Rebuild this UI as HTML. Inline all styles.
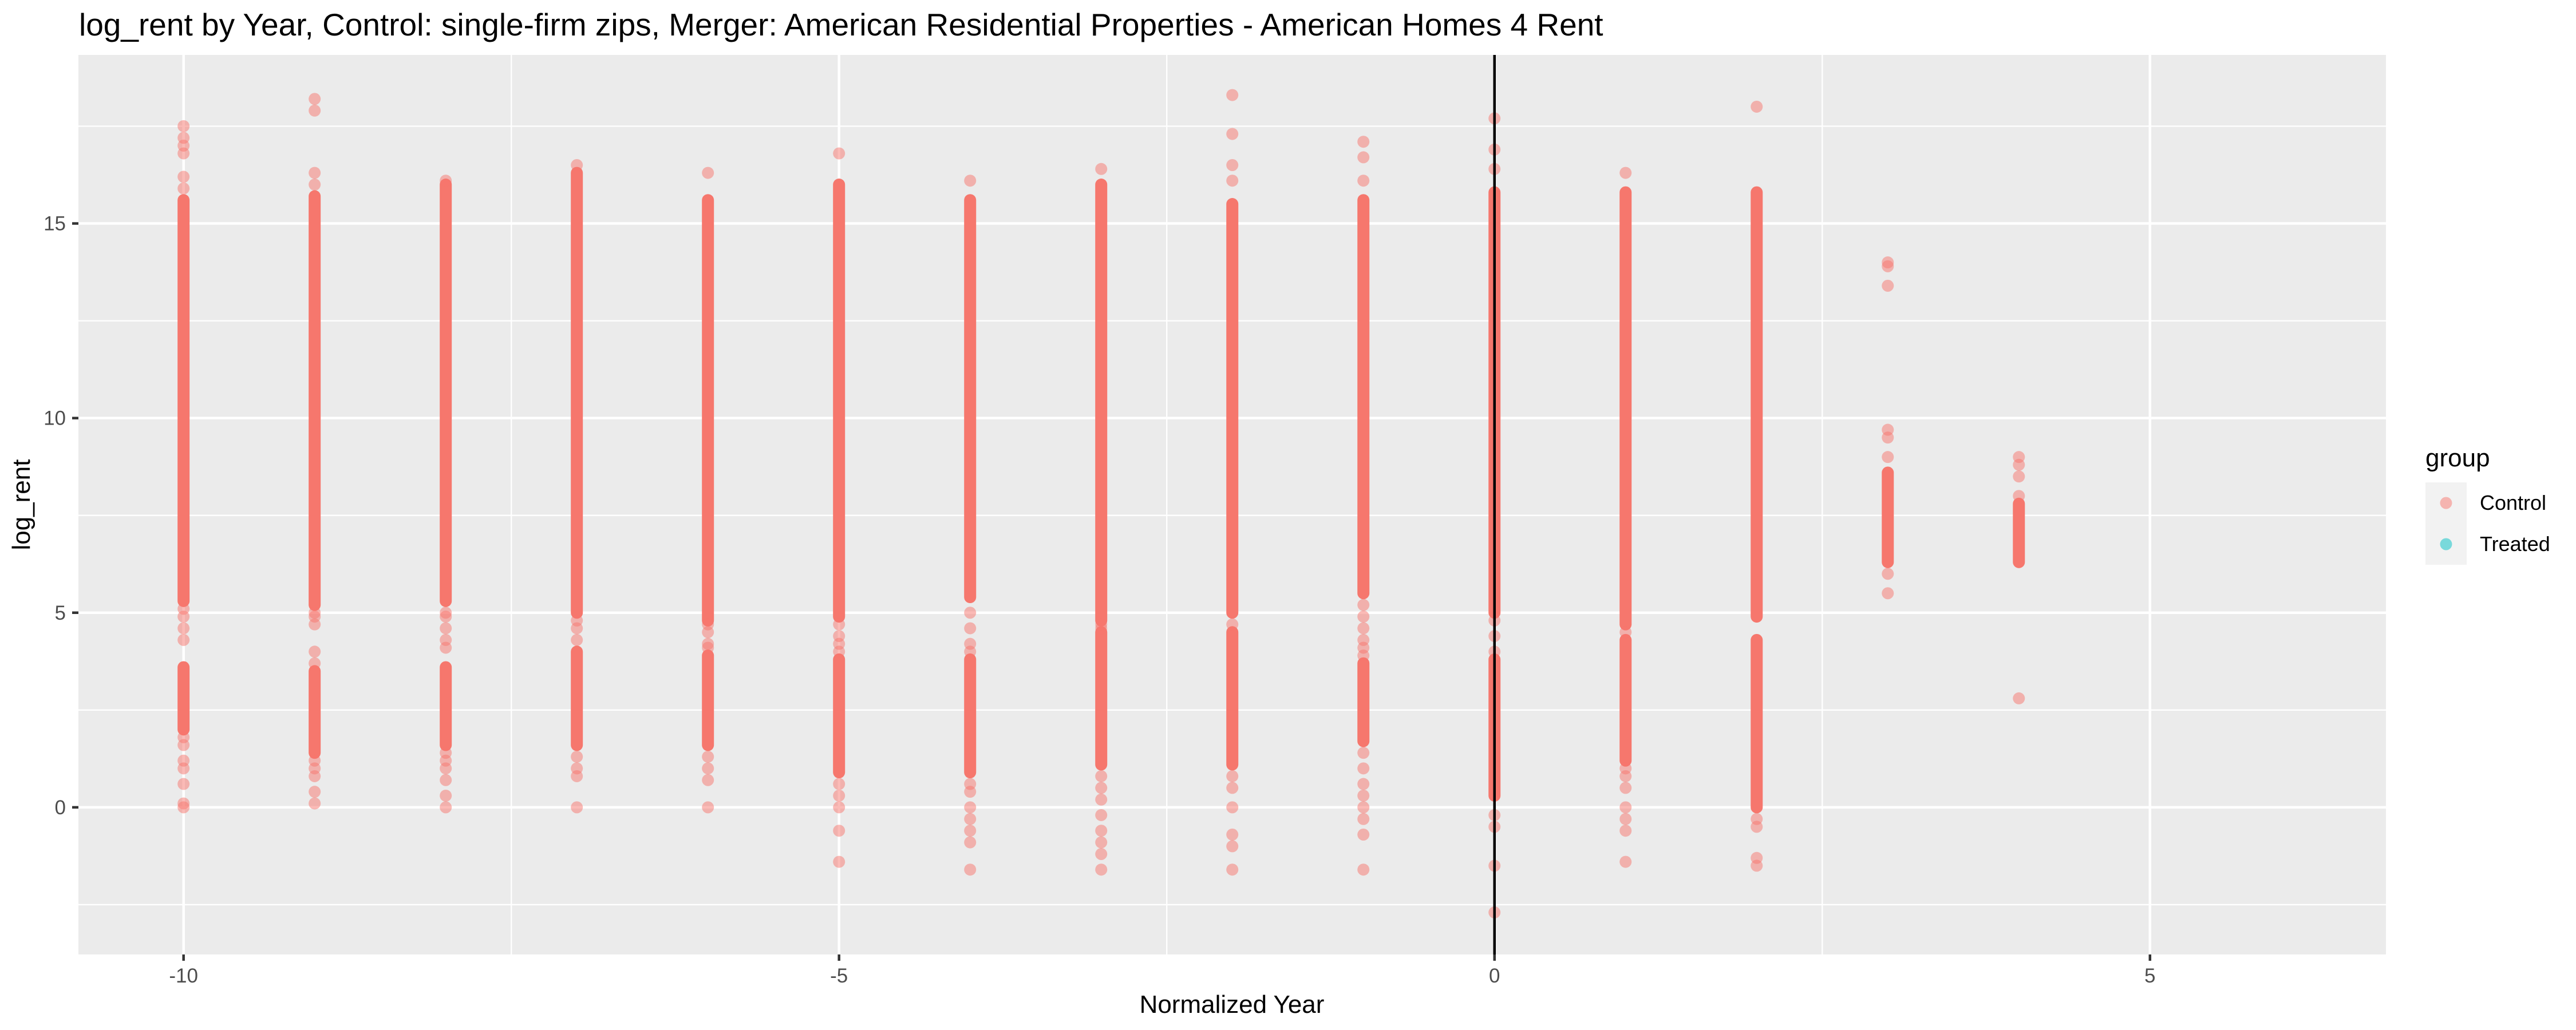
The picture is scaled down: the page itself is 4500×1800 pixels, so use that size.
<!DOCTYPE html>
<html><head><meta charset="utf-8"><style>
html,body{margin:0;padding:0;background:#fff;}
svg{display:block;font-family:"Liberation Sans",Arial,sans-serif;}
</style></head><body>
<svg id="chart" width="4500" height="1800" viewBox="0 0 4500 1800" xmlns="http://www.w3.org/2000/svg">
<text x="138" y="62" font-size="55" fill="#000">log_rent by Year, Control: single-firm zips, Merger: American Residential Properties - American Homes 4 Rent</text>
<rect x="137" y="96" width="4031" height="1572" fill="#EBEBEB"/>
<g id="grid"></g>
<g id="marks"></g>
<g id="axes"></g>
<text x="2152" y="1770" font-size="44" text-anchor="middle" fill="#000">Normalized Year</text>
<text transform="translate(52,882) rotate(-90)" font-size="44" text-anchor="middle" fill="#000">log_rent</text>
<g>
<text x="4237" y="815" font-size="44" fill="#000">group</text>
<rect x="4237" y="843" width="72" height="144" fill="#F2F2F2"/>
<circle cx="4273" cy="879" r="10.5" fill="#F8766D" fill-opacity="0.5"/>
<circle cx="4273" cy="951" r="10.5" fill="#00BFC4" fill-opacity="0.5"/>
<text x="4332" y="891" font-size="36" fill="#000">Control</text>
<text x="4332" y="963" font-size="36" fill="#000">Treated</text>
</g>
</svg>
<script>
const years = [-10,-9,-8,-7,-6,-5,-4,-3,-2,-1,0,1,2,3,4];
const upperBandLo = [5.3,5.2,5.3,5.0,4.8,4.9,5.4,4.8,5.0,5.5,5.0,4.7,4.9,6.3,6.3];
const upperBandHi = [15.6,15.7,16.0,16.3,15.6,16.0,15.6,16.0,15.5,15.6,15.8,15.8,15.8,8.6,7.8];
const lowerBandLo = [2.0,1.4,1.6,1.6,1.6,0.9,0.9,1.1,1.1,1.7,0.3,1.2,0.0,null,null];
const lowerBandHi = [3.6,3.5,3.6,4.0,3.9,3.8,3.8,4.5,4.5,3.7,3.8,4.3,4.3,null,null];
const outliers = [
 [17.5,17.2,17.0,16.8,16.2,15.9,4.3,4.6,4.9,5.1,1.2,1.0,0.6,0.1,0.0,1.6,1.8],
 [18.2,17.9,16.3,16.0,4.7,4.0,3.7,1.0,0.8,0.4,0.1,4.9,5.0,1.2],
 [16.1,4.3,4.6,5.0,4.1,1.0,0.7,0.3,0.0,1.2,1.4,4.9],
 [16.5,4.6,4.3,4.8,1.0,0.8,0.0,1.3],
 [16.3,4.2,4.5,4.7,4.1,1.0,0.7,0.0,1.3],
 [16.8,4.0,4.4,4.7,4.2,0.3,0.0,-0.6,-1.4,0.6],
 [16.1,4.6,5.0,4.2,4.0,0.0,-0.3,-0.6,-0.9,-1.6,0.4,0.6],
 [16.4,4.6,4.7,0.8,0.5,-0.2,-0.6,-0.9,-1.2,-1.6,0.2],
 [18.3,17.3,16.5,16.1,4.7,0.8,0.5,0.0,-0.7,-1.0,-1.6],
 [17.1,16.7,16.1,5.2,4.9,4.6,4.3,4.1,3.9,1.4,1.0,0.6,0.3,0.0,-0.3,-0.7,-1.6],
 [17.7,16.9,16.4,4.0,4.4,4.8,-0.2,-0.5,-1.5,-2.7],
 [16.3,4.5,1.0,0.8,0.5,0.0,-0.3,-0.6,-1.4],
 [18.0,-0.3,-0.5,-1.3,-1.5],
 [14.0,13.9,13.4,9.7,9.5,9.0,6.0,5.5],
 [9.0,8.8,8.5,8.0,2.8]
];
const xMajor = [-10,-5,0,5];
const xMinor = [-7.5,-2.5,2.5];
const yMajor = [0,5,10,15];
const yMinor = [-2.5,2.5,7.5,12.5,17.5];
const xTickLabels = ["-10","-5","0","5"];
const yTickLabels = ["0","5","10","15"];

const NS = "http://www.w3.org/2000/svg";
const P = {l:137,r:4168,t:96,b:1668};
const xDom = [-10.802, 6.8];
const yDom = [-3.78, 19.33];
function xs(v){return P.l + (v - xDom[0])/(xDom[1]-xDom[0])*(P.r-P.l);}
function ys(v){return P.b - (v - yDom[0])/(yDom[1]-yDom[0])*(P.b-P.t);}
function mk(tag, attrs, parent){const e=document.createElementNS(NS,tag);for(const k in attrs)e.setAttribute(k,attrs[k]);parent.appendChild(e);return e;}
const grid=document.getElementById('grid'), marks=document.getElementById('marks'), axes=document.getElementById('axes');

yMinor.forEach(v=>{const e=mk('line',{x1:P.l,x2:P.r,y1:ys(v),y2:ys(v),stroke:'#fff','stroke-width':2.3},grid);

});
xMinor.forEach(v=>{const e=mk('line',{x1:xs(v),x2:xs(v),y1:P.t,y2:P.b,stroke:'#fff','stroke-width':2.3},grid);

});
yMajor.forEach(v=>{const e=mk('line',{x1:P.l,x2:P.r,y1:ys(v),y2:ys(v),stroke:'#fff','stroke-width':4.5},grid);

});
xMajor.forEach(v=>{const e=mk('line',{x1:xs(v),x2:xs(v),y1:P.t,y2:P.b,stroke:'#fff','stroke-width':4.5},grid);

});

const R=10.5;
years.forEach((yr,i)=>{
  const cx=xs(yr);
  const bands=[[upperBandLo[i],upperBandHi[i]],[lowerBandLo[i],lowerBandHi[i]]];
  bands.forEach((b,j)=>{
    if(b[0]===null) return;
    const y1=ys(b[1]), y2=ys(b[0]);
    const e=mk('rect',{x:cx-R,y:y1-R,width:2*R,height:(y2-y1)+2*R,rx:R,ry:R,fill:'#F6776D'},marks);
    
    
  });
  outliers[i].forEach(v=>{
    const e=mk('circle',{cx:cx,cy:ys(v),r:R,fill:'#F8766D','fill-opacity':0.5},marks);
    
    
  });
});

const vl=mk('line',{x1:xs(0),x2:xs(0),y1:P.t,y2:P.b,stroke:'#000','stroke-width':4.5},marks);



xMajor.forEach((v,i)=>{
  const t=mk('line',{x1:xs(v),x2:xs(v),y1:P.b,y2:P.b+11,stroke:'#333','stroke-width':4.5},axes);
  
  
  const l=mk('text',{x:xs(v),y:P.b+49,'font-size':35,'text-anchor':'middle',fill:'#4D4D4D'},axes);
  l.textContent=xTickLabels[i];
  
  
});
yMajor.forEach((v,i)=>{
  const t=mk('line',{x1:P.l-11,x2:P.l,y1:ys(v),y2:ys(v),stroke:'#333','stroke-width':4.5},axes);
  
  
  const l=mk('text',{x:P.l-22,y:ys(v)+12,'font-size':35,'text-anchor':'end',fill:'#4D4D4D'},axes);
  l.textContent=yTickLabels[i];
  
  
});
</script>
</body></html>
